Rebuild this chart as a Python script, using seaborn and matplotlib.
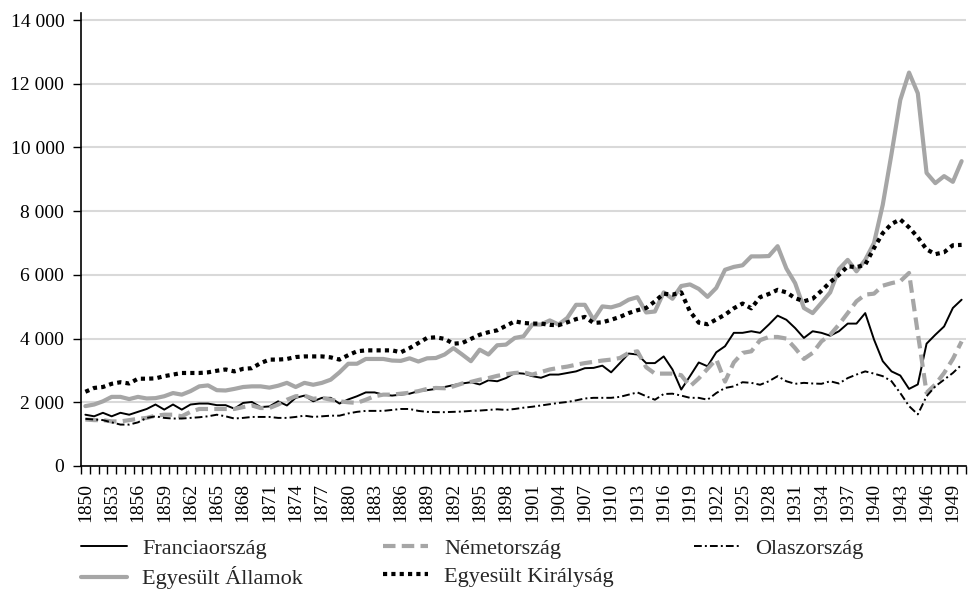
import matplotlib
matplotlib.use("Agg")
import matplotlib.pyplot as plt
import seaborn as sns
import numpy as np
from matplotlib.ticker import FuncFormatter

# --- data ---
years = list(range(1850, 1951))

france = [
    1610, 1560, 1670, 1560, 1670, 1610, 1700, 1790, 1930, 1770,
    1930, 1770, 1930, 1960, 1960, 1910, 1910, 1800, 1980, 2010,
    1850, 1870, 2030, 1900, 2140, 2210, 2030, 2140, 2140, 1960,
    2090, 2190, 2310, 2310, 2240, 2210, 2240, 2270, 2350, 2380,
    2420, 2480, 2540, 2590, 2630, 2560, 2690, 2660, 2760, 2920,
    2900, 2820, 2770, 2870, 2870, 2920, 2970, 3070, 3080, 3150,
    2940, 3230, 3530, 3500, 3230, 3230, 3440, 3030, 2400, 2820,
    3250, 3130, 3570, 3760, 4180, 4180, 4230, 4180, 4440, 4720,
    4590, 4330, 4020, 4230, 4180, 4090, 4230, 4470, 4470, 4800,
    3970, 3290, 2970, 2840, 2420, 2560, 3840, 4120, 4380, 4960,
    5220,
]

germany = [
    1460, 1440, 1440, 1400, 1400, 1440, 1480, 1510, 1580, 1610,
    1610, 1560, 1700, 1790, 1790, 1790, 1790, 1790, 1850, 1900,
    1820, 1820, 1930, 2080, 2190, 2210, 2110, 2140, 2080, 2030,
    2000, 1980, 2080, 2190, 2240, 2240, 2270, 2300, 2350, 2420,
    2450, 2440, 2500, 2590, 2640, 2710, 2760, 2830, 2880, 2920,
    2940, 2870, 2950, 3030, 3080, 3120, 3180, 3230, 3270, 3310,
    3340, 3390, 3550, 3600, 3100, 2900, 2900, 2900, 2850, 2500,
    2750, 3050, 3350, 2650, 3250, 3550, 3600, 3950, 4050, 4050,
    4000, 3700, 3360, 3550, 3910, 4120, 4440, 4800, 5170, 5380,
    5410, 5660, 5740, 5800, 6060, 4170, 2300, 2560, 2920, 3360,
    3910,
]

italy = [
    1480, 1460, 1440, 1370, 1300, 1300, 1370, 1510, 1560, 1510,
    1490, 1490, 1510, 1530, 1560, 1610, 1560, 1490, 1510, 1540,
    1540, 1540, 1510, 1510, 1540, 1580, 1540, 1560, 1580, 1580,
    1650, 1700, 1730, 1730, 1730, 1760, 1790, 1790, 1730, 1700,
    1690, 1690, 1700, 1710, 1730, 1740, 1760, 1780, 1760, 1790,
    1830, 1860, 1900, 1940, 1980, 2010, 2060, 2120, 2140, 2140,
    2140, 2170, 2240, 2310, 2190, 2080, 2260, 2270, 2210, 2140,
    2140, 2080, 2290, 2450, 2500, 2630, 2610, 2550, 2660, 2820,
    2660, 2580, 2610, 2590, 2580, 2660, 2590, 2760, 2870, 2970,
    2900, 2820, 2660, 2290, 1880, 1620, 2190, 2500, 2710, 2920,
    3180,
]

usa = [
    1880, 1930, 2030, 2170, 2170, 2100, 2170, 2120, 2130, 2190,
    2290, 2240, 2350, 2500, 2530, 2380, 2370, 2420, 2480, 2500,
    2500, 2460, 2520, 2610, 2480, 2610, 2550, 2610, 2710, 2940,
    3210, 3210, 3360, 3360, 3360, 3310, 3300, 3380, 3280, 3380,
    3390, 3500, 3700, 3500, 3290, 3650, 3500, 3790, 3810, 4020,
    4070, 4440, 4440, 4570, 4440, 4650, 5060, 5060, 4590, 5010,
    4980, 5060, 5220, 5300, 4820, 4850, 5450, 5250, 5650, 5700,
    5560, 5310, 5590, 6160, 6250, 6300, 6580, 6580, 6590, 6900,
    6200, 5740, 4960, 4800, 5120, 5450, 6180, 6470, 6110, 6470,
    7000, 8200, 9800, 11490, 12350, 11700, 9200, 8880, 9100, 8920,
    9570,
]

uk = [
    2330, 2450, 2480, 2580, 2630, 2590, 2740, 2740, 2750, 2820,
    2870, 2920, 2920, 2920, 2940, 2990, 3030, 2970, 3050, 3070,
    3230, 3340, 3340, 3360, 3420, 3440, 3440, 3440, 3410, 3340,
    3480, 3600, 3630, 3630, 3630, 3630, 3570, 3700, 3860, 4020,
    4040, 3990, 3840, 3860, 3990, 4120, 4200, 4260, 4400, 4540,
    4490, 4470, 4470, 4430, 4420, 4510, 4610, 4680, 4490, 4510,
    4590, 4680, 4800, 4890, 4960, 5170, 5410, 5380, 5450, 4850,
    4500, 4450, 4600, 4750, 4950, 5100, 4950, 5300, 5400, 5530,
    5450, 5270, 5170, 5250, 5500, 5770, 6000, 6270, 6240, 6320,
    6840, 7310, 7600, 7740, 7490, 7180, 6800, 6650, 6710, 6930,
    6940,
]

names = ["Franciaország", "Németország", "Olaszország",
         "Egyesült Államok", "Egyesült Királyság"]

sns.set_theme(style="white")
plt.rcParams['font.family'] = ['Liberation Serif', 'DejaVu Serif']

fig = plt.figure(figsize=(9.7, 6.01), dpi=100)
ax = fig.add_axes([81 / 970, 1 - 466 / 601, (966 - 81) / 970, (466 - 13) / 601])

gray = "#a6a6a6"
styles = [
    ("black", 1.4, "-"),
    (gray, 3.0, (0, (3, 1.5))),
    ("black", 1.4, (0, (4, 1.6, 1, 1.6))),
    (gray, 3.0, "-"),
    ("black", 3.0, (0, (1, 1))),
]

for name, vals, (col, lw, ls) in zip(names, [france, germany, italy, usa, uk], styles):
    sns.lineplot(x=years, y=vals, ax=ax, color=col, linewidth=lw,
                 linestyle=ls, label=name, legend=False)
    ax.lines[-1].set_dash_capstyle("butt")

# axes
ax.set_xlim(1849.5, 1950.5)
ax.set_ylim(0, 14220)
ax.set_yticks(range(0, 14001, 2000))
ax.yaxis.set_major_formatter(FuncFormatter(lambda v, p: f"{int(v):,}".replace(",", " ")))
ax.set_xticks(years[:-1:3])
ax.set_xticklabels([str(y) for y in years[:-1:3]], rotation=90)
ax.set_xticks(np.arange(1849.5, 1951, 1), minor=True)
ax.tick_params(axis="x", which="major", length=0, pad=12, labelsize=14, colors="black")
ax.tick_params(axis="x", which="minor", length=6, width=1, direction="out", color="black", bottom=True)
ax.tick_params(axis="y", length=6, width=1, direction="out", pad=6, labelsize=14, colors="black", left=True)
ax.set_xlabel("")
ax.set_ylabel("")

ax.yaxis.grid(True, color="#d9d9d9", linewidth=1.5)
ax.xaxis.grid(False)
ax.set_axisbelow(True)
for s in ["top", "right"]:
    ax.spines[s].set_visible(False)
for s in ["left", "bottom"]:
    ax.spines[s].set_color("black")
    ax.spines[s].set_linewidth(1.2)

# legend: row-major order in 3 columns
lines = ax.lines
order = [0, 3, 1, 4, 2]
fig.legend([lines[i] for i in order], [names[i] for i in order],
           loc="upper left", bbox_to_anchor=(81 / 970, 1 - 538 / 601),
           ncol=3, frameon=False, fontsize=16, handlelength=2.05,
           handletextpad=0.7, columnspacing=3.6, labelspacing=0.35,
           borderpad=0, borderaxespad=0)

fig.savefig("out.png", dpi=100)
